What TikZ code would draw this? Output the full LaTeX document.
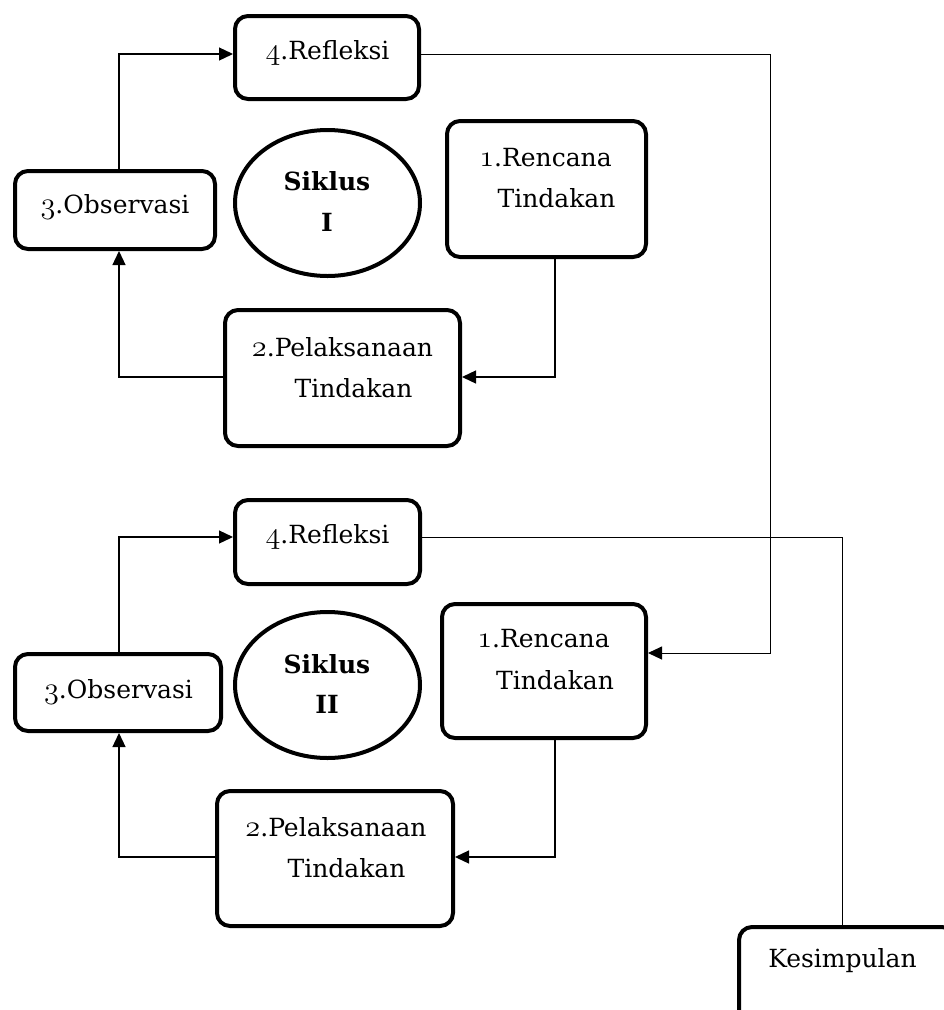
\documentclass[tikz,border=0pt]{standalone}
\usepackage{fontspec}
\usepackage{graphicx}
\setmainfont{DejaVu Serif}
\usetikzlibrary{arrows.meta,shapes.geometric}
\newcommand{\osn}[1]{\scalebox{1.22}{\usefont{OML}{cmm}{m}{it}#1}}
\begin{document}
\begin{tikzpicture}[x=1pt,y=-1pt,
  box/.style={draw, line width=4pt, rounded corners=13pt, inner sep=0pt},
  oval/.style={draw, line width=4pt, ellipse, inner sep=0pt},
  txt/.style={anchor=base, inner sep=0pt, font=\fontsize{25}{30}\selectfont},
  btxt/.style={txt, font=\fontsize{25}{30}\selectfont\bfseries},
  con/.style={line width=1.3pt},
  thinline/.style={line width=1pt},
  arr/.style={con, -{Triangle[length=14pt,width=13pt]}}]
\clip (0,0) rectangle (944,1010);
\fill[white] (0,0) rectangle (944,1010);
% ---------- Siklus I ----------
\node[box, minimum width=184pt, minimum height=83pt] (r1) at (327,57.5) {};
\node[box, minimum width=200pt, minimum height=78pt] (o1) at (115,210) {};
\node[oval, minimum width=185pt, minimum height=146pt] (e1) at (327.5,203) {};
\node[box, minimum width=235pt, minimum height=136pt] (p1) at (342.5,378) {};
\node[box, minimum width=199pt, minimum height=136pt] (rc1) at (546.5,189) {};
\node[txt] (r1t) at (327.5,59) {\osn{4}.Refleksi};
\node[txt] (o1t) at (115,213) {\osn{3}.Observasi};
\node[btxt] (e1a) at (327,190) {Siklus};
\node[btxt] (e1b) at (327,231) {I};
\node[txt] (p1a) at (342.5,356) {\osn{2}.Pelaksanaan};
\node[txt] (p1b) at (353.5,397) {Tindakan};
\node[txt] (rc1a) at (545.5,166) {\osn{1}.Rencana};
\node[txt] (rc1b) at (556.5,207) {Tindakan};
% ---------- Siklus II ----------
\node[box, minimum width=185pt, minimum height=84pt] (r2) at (327.5,542) {};
\node[box, minimum width=206pt, minimum height=77pt] (o2) at (118,692.5) {};
\node[oval, minimum width=185pt, minimum height=146pt] (e2) at (327.5,685) {};
\node[box, minimum width=236pt, minimum height=135pt] (p2) at (335,858.5) {};
\node[box, minimum width=204pt, minimum height=134pt] (rc2) at (544,671) {};
\node[txt] (r2t) at (327.5,543) {\osn{4}.Refleksi};
\node[txt] (o2t) at (118.5,698) {\osn{3}.Observasi};
\node[btxt] (e2a) at (327,673) {Siklus};
\node[btxt] (e2b) at (327,713) {II};
\node[txt] (p2a) at (336,836) {\osn{2}.Pelaksanaan};
\node[txt] (p2b) at (346.5,877) {Tindakan};
\node[txt] (rc2a) at (543.5,647) {\osn{1}.Rencana};
\node[txt] (rc2b) at (555,689) {Tindakan};
% ---------- Kesimpulan ----------
\node[box, minimum width=216pt, minimum height=100pt] (k) at (847,977) {};
\node[txt] (kt) at (842.5,967) {Kesimpulan};
% ---------- connectors I ----------
\coordinate (t1) at (555,377);
\coordinate (u1) at (119,377);
\coordinate (v1) at (119,54);
\coordinate (w1) at (770,54);
\coordinate (w2) at (770,653);
\draw[arr] (rc1.south -| t1) -- (t1) -- (p1.east |- t1);
\draw[arr] (p1.west |- u1) -- (u1) -- (o1.south -| u1);
\draw[arr] (o1.north -| v1) -- (v1) -- (r1.west |- v1);
\draw[thinline, -{Triangle[length=14pt,width=13pt]}] (r1.east |- w1) -- (w1) -- (w2) -- (rc2.east |- w2);
% ---------- connectors II ----------
\coordinate (t2) at (555,857);
\coordinate (u2) at (119,857);
\coordinate (v2) at (119,537);
\coordinate (x1) at (842,537);
\draw[arr] (rc2.south -| t2) -- (t2) -- (p2.east |- t2);
\draw[arr] (p2.west |- u2) -- (u2) -- (o2.south -| u2);
\draw[arr] (o2.north -| v2) -- (v2) -- (r2.west |- v2);
\draw[thinline] (r2.east |- x1) -- (x1) -- (k.north -| x1);
\end{tikzpicture}
\end{document}
